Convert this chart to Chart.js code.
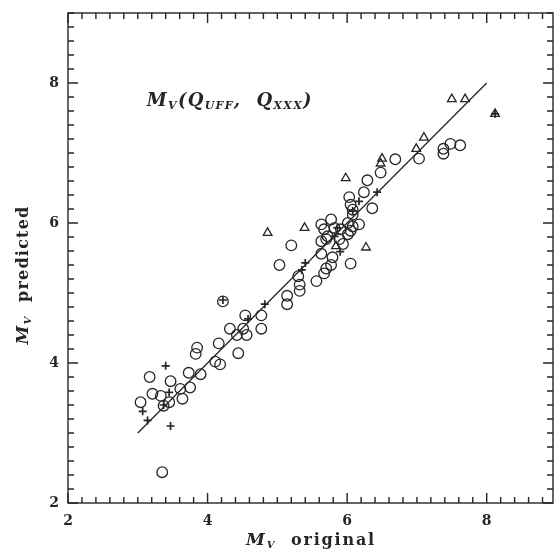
<!DOCTYPE html>
<html>
<head>
<meta charset="utf-8">
<script src="https://cdn.jsdelivr.net/npm/chart.js@4/dist/chart.umd.min.js"></script>
<style>
html, body { margin: 0; padding: 0; background: #fff; overflow: hidden; }
#wrap { width: 554px; height: 549px; }
</style>
</head>
<body>
<div id="wrap"><canvas id="mvChart"></canvas></div>
<script>
// axis ranges / labelled ticks
const xMin = 2, xMax = 8.95;
const yMin = 2, yMax = 9;
const labelTicks = [2, 4, 6, 8];

// open circles
const circleX = [3.17, 3.83, 3.85, 4.16, 4.11, 4.18, 4.44, 3.47, 3.73, 3.90, 3.61, 3.75, 3.64, 3.21, 3.33, 3.04, 3.37, 3.45, 3.35,
    5.20, 5.03, 5.56, 5.30, 5.32, 5.32, 5.14, 5.14, 4.22, 4.54, 4.77, 4.32, 4.51, 4.77, 4.42, 4.56,
    6.69, 6.29, 6.24, 6.03, 6.05, 6.08, 6.08, 6.36, 5.77, 5.63, 5.82, 5.91, 6.01, 6.08, 6.17, 6.05, 5.67, 5.72, 5.63, 5.70,
    5.89, 5.94, 5.63, 5.79, 5.77, 5.70, 5.67, 6.05, 6.01, 7.03, 7.38, 7.38, 7.48, 7.62, 6.48];
const circleY = [3.80, 4.13, 4.22, 4.28, 4.02, 3.98, 4.14, 3.74, 3.86, 3.84, 3.63, 3.65, 3.49, 3.56, 3.53, 3.44, 3.39, 3.44, 2.44,
    5.68, 5.40, 5.17, 5.24, 5.12, 5.03, 4.96, 4.84, 4.88, 4.68, 4.68, 4.49, 4.49, 4.49, 4.40, 4.40,
    6.91, 6.61, 6.44, 6.37, 6.26, 6.19, 6.12, 6.21, 6.05, 5.98, 5.93, 5.91, 6.00, 5.95, 5.98, 5.89, 5.91, 5.81, 5.74, 5.77,
    5.77, 5.70, 5.56, 5.51, 5.40, 5.35, 5.28, 5.42, 5.84, 6.92, 7.06, 6.99, 7.13, 7.11, 6.72];

// open triangles
const triX = [4.86, 5.39, 5.98, 6.27, 6.48, 6.50, 7.50, 7.69, 7.10, 6.99, 8.12, 5.84];
const triY = [5.86, 5.93, 6.64, 5.65, 6.85, 6.92, 7.77, 7.77, 7.22, 7.06, 7.56, 5.67];

// plus signs
const plusX = [3.40, 3.07, 3.14, 3.47, 3.37, 3.45, 4.82, 4.58, 6.17, 6.43, 5.82, 5.35, 5.90, 4.22, 8.12, 5.86, 6.08, 5.40];
const plusY = [3.96, 3.31, 3.18, 3.10, 3.40, 3.58, 4.84, 4.63, 6.31, 6.44, 5.81, 5.33, 5.59, 4.90, 7.56, 5.93, 6.17, 5.43];

// one-to-one line
const fitX = [3, 8];
const fitY = [3, 8];

const ink = '#262626';
const serif = '"DejaVu Serif", "Liberation Serif", serif';

function pts(xs, ys) {
    return xs.map((x, i) => ({ x: x, y: ys[i] }));
}

// text runs with subscripts
function richWidth(ctx, parts, spacing) {
    let w = 0;
    parts.forEach(p => { ctx.font = p.font; w += ctx.measureText(p.t).width + p.t.length * spacing; });
    return w;
}
function drawRich(ctx, parts, x, y, spacing) {
    ctx.textBaseline = 'alphabetic';
    ctx.textAlign = 'left';
    parts.forEach(p => {
        ctx.font = p.font;
        for (const ch of p.t) {
            ctx.fillText(ch, x, y + (p.dy || 0));
            x += ctx.measureText(ch).width + spacing;
        }
    });
}

const bigM = 'italic bold 17px ' + serif;
const subV = 'italic bold 10px ' + serif;
const word = 'bold 16px ' + serif;

const framePlugin = {
    id: 'frame',
    afterDraw(chart) {
        const ctx = chart.ctx;
        const a = chart.chartArea;
        const sx = chart.scales.x, sy = chart.scales.y;
        ctx.save();
        ctx.strokeStyle = ink;
        ctx.lineWidth = 1.4;
        ctx.strokeRect(a.left, a.top, a.right - a.left, a.bottom - a.top);

        // inward ticks, minor every 0.2
        ctx.beginPath();
        for (let i = 10; i <= 45; i++) {
            const v = i / 5;
            const len = (i % 10 === 0) ? 10 : 6;
            if (v <= xMax) {
                const px = sx.getPixelForValue(v);
                ctx.moveTo(px, a.bottom); ctx.lineTo(px, a.bottom - len);
                ctx.moveTo(px, a.top); ctx.lineTo(px, a.top + len);
            }
            if (v <= yMax) {
                const py = sy.getPixelForValue(v);
                ctx.moveTo(a.left, py); ctx.lineTo(a.left + len, py);
                ctx.moveTo(a.right, py); ctx.lineTo(a.right - len, py);
            }
        }
        ctx.stroke();

        ctx.fillStyle = ink;
        // x axis title
        const xt = [{ t: 'M', font: bigM }, { t: 'V', font: subV, dy: 3 }, { t: '  original', font: word }];
        const xw = richWidth(ctx, xt, 1.8);
        drawRich(ctx, xt, 311 - xw / 2, 545, 1.8);

        // y axis title, rotated
        const yt = [{ t: 'M', font: bigM }, { t: 'V', font: subV, dy: 3 }, { t: '  predicted', font: word }];
        const yw = richWidth(ctx, yt, 1.2);
        ctx.save();
        ctx.translate(28, 275);
        ctx.rotate(-Math.PI / 2);
        drawRich(ctx, yt, -yw / 2, 0, 1.2);
        ctx.restore();

        // inset label
        const f = 'italic bold 18px ' + serif;
        const s = 'italic bold 11px ' + serif;
        const lab = [
            { t: 'M', font: f }, { t: 'V', font: s, dy: 3 },
            { t: '(Q', font: f }, { t: 'UFF', font: s, dy: 3 },
            { t: ',  Q', font: f }, { t: 'XXX', font: s, dy: 3 },
            { t: ')', font: f }
        ];
        drawRich(ctx, lab, sx.getPixelForValue(3.13), sy.getPixelForValue(7.67), 1.3);
        ctx.restore();
    }
};

const ctx = document.getElementById('mvChart').getContext('2d');
new Chart(ctx, {
    type: 'scatter',
    data: {
        datasets: [
            {
                label: 'fit',
                data: pts(fitX, fitY),
                showLine: true,
                borderColor: ink,
                borderWidth: 1.3,
                pointRadius: 0
            },
            {
                label: 'circles',
                data: pts(circleX, circleY),
                pointStyle: 'circle',
                pointRadius: 5.3,
                borderColor: ink,
                borderWidth: 1.3,
                backgroundColor: 'rgba(0,0,0,0)'
            },
            {
                label: 'triangles',
                data: pts(triX, triY),
                pointStyle: 'triangle',
                pointRadius: 5,
                borderColor: ink,
                borderWidth: 1.3,
                backgroundColor: 'rgba(0,0,0,0)'
            },
            {
                label: 'plus',
                data: pts(plusX, plusY),
                pointStyle: 'cross',
                pointRadius: 4,
                borderColor: ink,
                borderWidth: 1.7
            }
        ]
    },
    options: {
        responsive: true,
        maintainAspectRatio: false,
        animation: false,
        layout: { autoPadding: false, padding: { top: 13, right: 1, left: 0, bottom: 0 } },
        plugins: {
            legend: { display: false },
            tooltip: { enabled: false }
        },
        scales: {
            x: {
                type: 'linear',
                min: xMin,
                max: xMax,
                grid: { display: false },
                border: { display: false },
                afterFit: s => { s.height = 46; s.paddingLeft = 0; s.paddingRight = 0; },
                ticks: {
                    stepSize: 2,
                    padding: 2,
                    maxRotation: 0,
                    autoSkip: false,
                    color: ink,
                    font: { family: serif, size: 14, weight: 'bold' },
                    callback: v => labelTicks.includes(v) ? String(v) : ''
                }
            },
            y: {
                type: 'linear',
                min: yMin,
                max: yMax,
                grid: { display: false },
                border: { display: false },
                afterFit: s => { s.width = 68; s.paddingTop = 0; s.paddingBottom = 0; },
                ticks: {
                    stepSize: 2,
                    padding: 1,
                    color: ink,
                    font: { family: serif, size: 14, weight: 'bold' },
                    callback: v => labelTicks.includes(v) ? String(v) : ''
                }
            }
        }
    },
    plugins: [framePlugin]
});
</script>
</body>
</html>
